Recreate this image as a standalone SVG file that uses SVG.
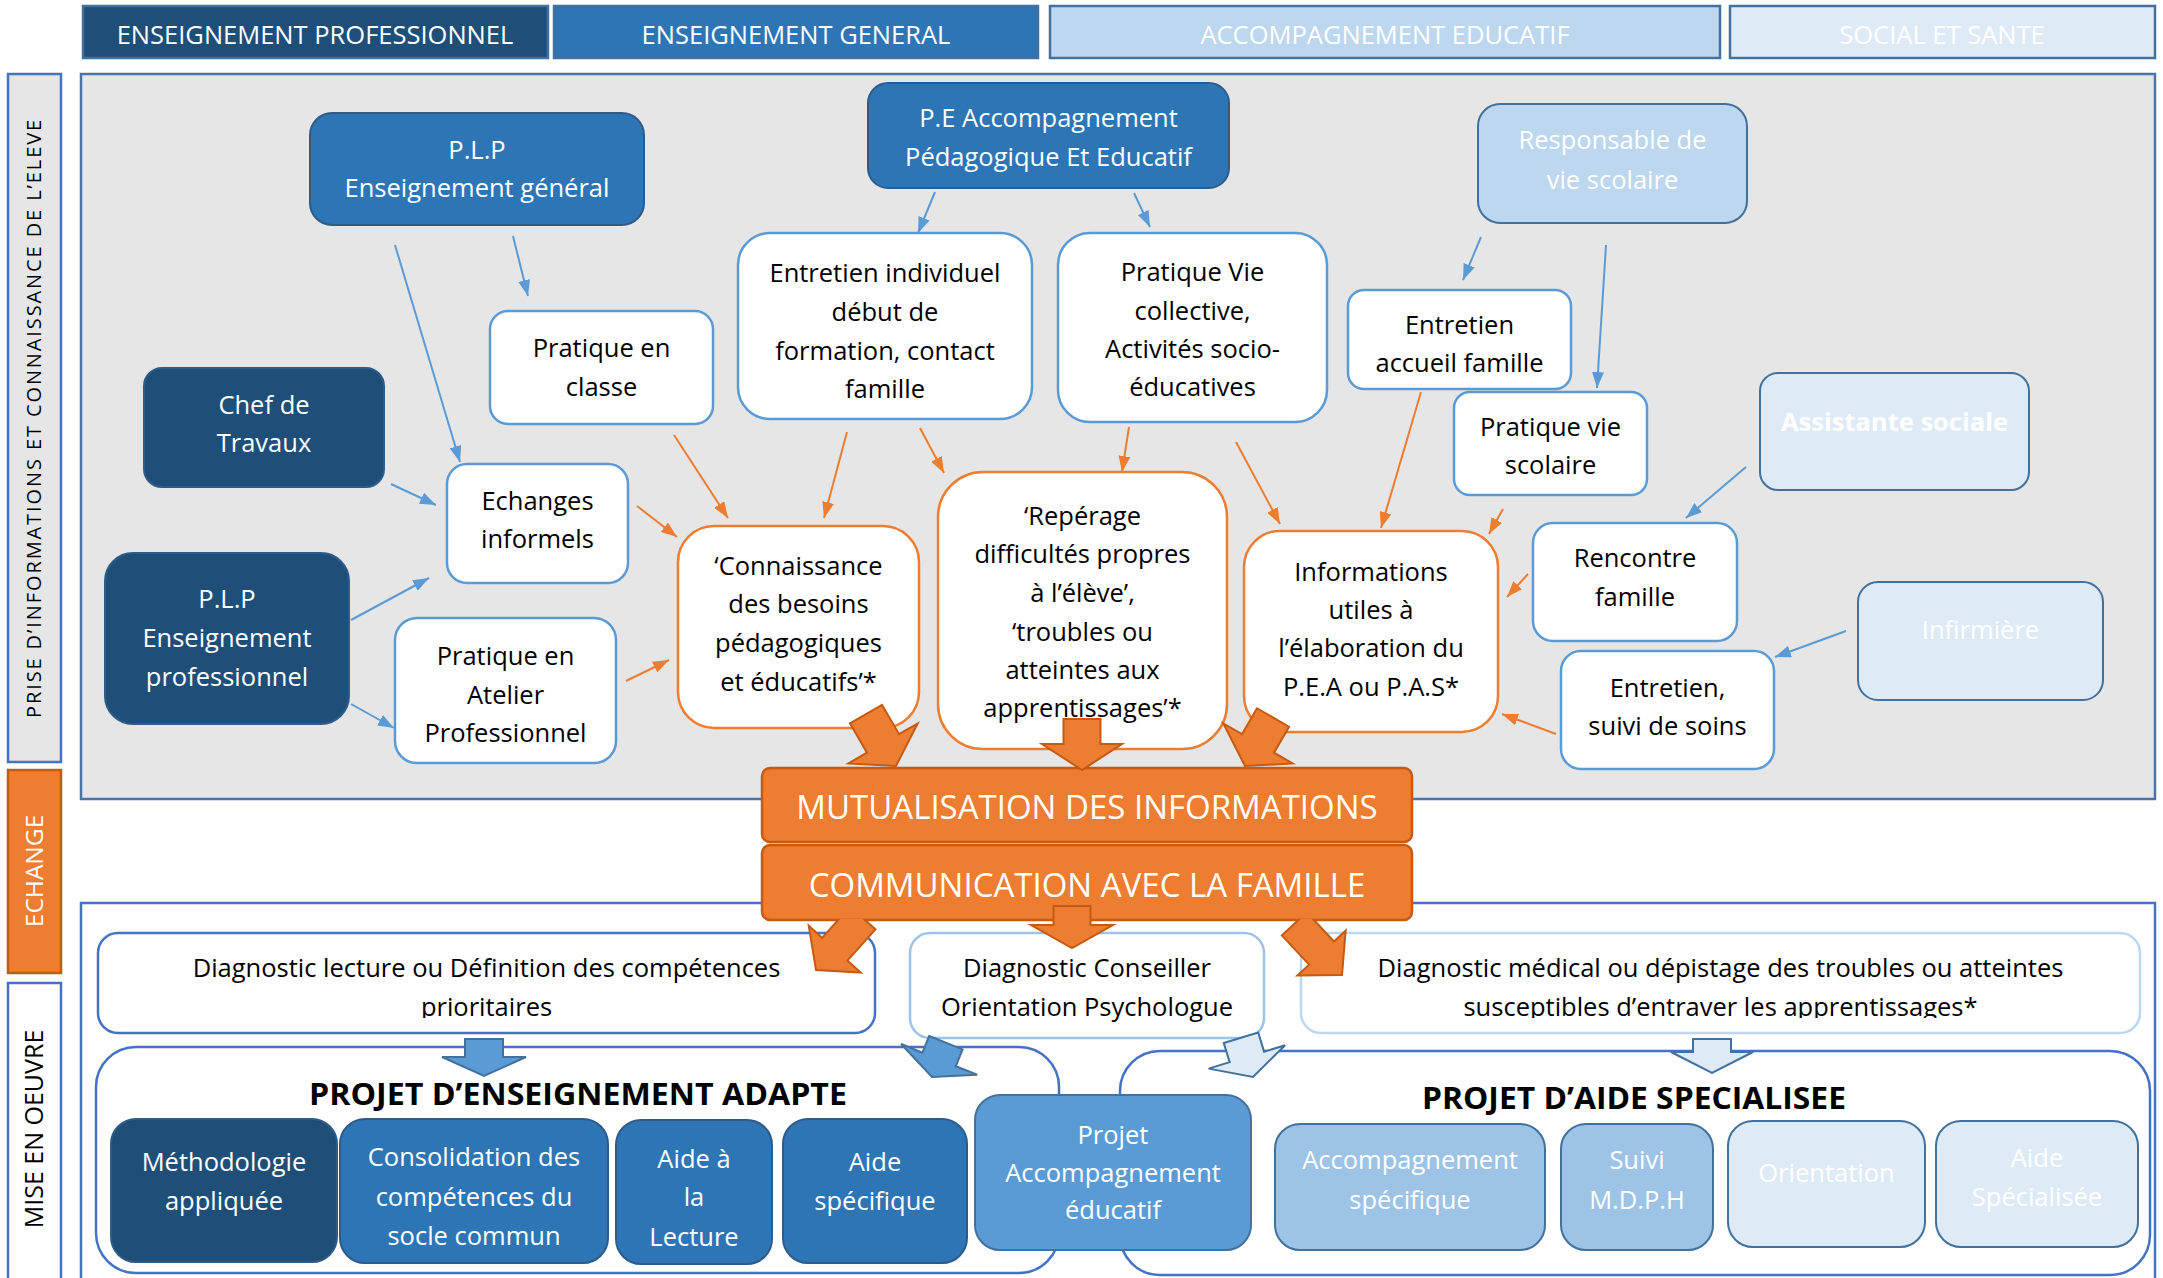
<svg xmlns="http://www.w3.org/2000/svg" width="2163" height="1278" viewBox="0 0 2163 1278">
<defs>
<style>
text{font-family:"Open Sans","Liberation Sans",sans-serif;font-size:25.5px;text-anchor:middle;fill:#000}
text.w{fill:#fff}
.hd{stroke:#41719C;stroke-width:2.5}
.navy{fill:#1F4E79;stroke:#2E5C8A;stroke-width:2}
.mid{fill:#2E75B6;stroke:#2E5C8A;stroke-width:2}
.sky{fill:#5B9BD5;stroke:#41719C;stroke-width:2}
.pale{fill:#9DC3E6;stroke:#41719C;stroke-width:2}
.light{fill:#BDD7EE;stroke:#41719C;stroke-width:2}
.ice{fill:#DEEBF7;stroke:#41719C;stroke-width:2}
.wb{fill:#fff;stroke:#5B9BD5;stroke-width:2.5}
.wo{fill:#fff;stroke:#ED7D31;stroke-width:2.5}
.ob{fill:#ED7D31;stroke:#C55A11;stroke-width:2.5}
.lb{stroke:#5B9BD5;stroke-width:2;fill:none;marker-end:url(#mb)}
.lo{stroke:#ED7D31;stroke-width:2;fill:none;marker-end:url(#mo)}
.bo{fill:#ED7D31;stroke:#C55A11;stroke-width:2}
.bb{fill:#5B9BD5;stroke:#41719C;stroke-width:2}
.bi{fill:#DEEBF7;stroke:#41719C;stroke-width:2}
</style>
<marker id="mb" markerWidth="16" markerHeight="12" refX="16" refY="6" orient="auto" markerUnits="userSpaceOnUse"><path d="M0,0 L16,6 L0,12 z" fill="#5B9BD5"/></marker>
<marker id="mo" markerWidth="16" markerHeight="12" refX="16" refY="6" orient="auto" markerUnits="userSpaceOnUse"><path d="M0,0 L16,6 L0,12 z" fill="#ED7D31"/></marker>
<clipPath id="below"><rect x="0" y="919" width="2163" height="200"/></clipPath>
<clipPath id="diagclip"><rect x="0" y="930" width="2163" height="88"/></clipPath>
</defs>
<rect width="2163" height="1278" fill="#fff"/>

<!-- headers -->
<g id="h-pro"><rect class="hd" x="83" y="6" width="465" height="52" fill="#1F4E79"/><text class="w" x="315" y="44">ENSEIGNEMENT PROFESSIONNEL</text></g>
<g id="h-gen"><rect class="hd" x="554" y="6" width="484" height="52" fill="#2E75B6"/><text class="w" x="796" y="44">ENSEIGNEMENT GENERAL</text></g>
<g id="h-acc"><rect class="hd" x="1050" y="6" width="670" height="52" fill="#BDD7EE"/><text class="w" x="1385" y="44">ACCOMPAGNEMENT EDUCATIF</text></g>
<g id="h-soc"><rect class="hd" x="1730" y="6" width="425" height="52" fill="#DEEBF7"/><text class="w" x="1942" y="44">SOCIAL ET SANTE</text></g>

<!-- side labels -->
<g id="lbl-prise"><rect x="8" y="74" width="53" height="688" fill="#E6E6E6" stroke="#4472C4" stroke-width="2.5"/><text transform="translate(41,418) rotate(-90)" style="font-size:20px;letter-spacing:1.9px">PRISE D’INFORMATIONS ET CONNAISSANCE DE L’ELEVE</text></g>
<g id="lbl-echange"><rect x="8" y="770" width="53" height="203" fill="#ED7D31" stroke="#C55A11" stroke-width="2.5"/><text class="w" transform="translate(43,871) rotate(-90)" style="font-size:24.5px">ECHANGE</text></g>
<g id="lbl-mise"><rect x="8" y="983" width="53" height="310" fill="#fff" stroke="#4472C4" stroke-width="2.5"/><text transform="translate(43,1129) rotate(-90)" style="font-size:25px">MISE EN OEUVRE</text></g>

<!-- panels -->
<g id="panel-top"><rect x="81" y="74" width="2074" height="725" fill="#E6E6E6" stroke="#4A74A6" stroke-width="2.5"/></g>
<g id="panel-bottom"><rect x="81" y="903" width="2074" height="400" fill="#fff" stroke="#4472C4" stroke-width="2.5"/></g>

<!-- top nodes -->
<g id="plp-eg"><rect class="mid" x="310" y="113" width="334" height="112" rx="22"/><text class="w" x="477" y="159">P.L.P</text><text class="w" x="477" y="197">Enseignement général</text></g>
<g id="pe-acc"><rect class="mid" x="868" y="83" width="361" height="105" rx="20"/><text class="w" x="1048.5" y="127">P.E Accompagnement</text><text class="w" x="1048.5" y="166">Pédagogique Et Educatif</text></g>
<g id="resp-vs"><rect class="light" x="1478" y="104" width="269" height="119" rx="22"/><text class="w" x="1612.5" y="149">Responsable de</text><text class="w" x="1612.5" y="189">vie scolaire</text></g>
<g id="prat-classe"><rect class="wb" x="490" y="311" width="223" height="113" rx="18"/><text x="601.5" y="357">Pratique en</text><text x="601.5" y="396">classe</text></g>
<g id="entretien-ind"><rect class="wb" x="738" y="233" width="294" height="186" rx="32"/><text x="885" y="282">Entretien individuel</text><text x="885" y="321">début de</text><text x="885" y="360">formation, contact</text><text x="885" y="398">famille</text></g>
<g id="prat-vie-coll"><rect class="wb" x="1058" y="233" width="269" height="189" rx="32"/><text x="1192.5" y="281">Pratique Vie</text><text x="1192.5" y="320">collective,</text><text x="1192.5" y="358">Activités socio-</text><text x="1192.5" y="396">éducatives</text></g>
<g id="entretien-accueil"><rect class="wb" x="1348" y="290" width="223" height="99" rx="16"/><text x="1459.5" y="334">Entretien</text><text x="1459.5" y="372">accueil famille</text></g>
<g id="prat-vie-sco"><rect class="wb" x="1454" y="392" width="193" height="103" rx="16"/><text x="1550.5" y="436">Pratique vie</text><text x="1550.5" y="474">scolaire</text></g>
<g id="assistante"><rect class="ice" x="1760" y="373" width="269" height="117" rx="18"/><text class="w" x="1894.5" y="431" style="font-weight:700">Assistante sociale</text></g>
<g id="chef"><rect class="navy" x="144" y="368" width="240" height="119" rx="18"/><text class="w" x="264" y="414">Chef de</text><text class="w" x="264" y="452">Travaux</text></g>
<g id="echanges"><rect class="wb" x="447" y="464" width="181" height="119" rx="20"/><text x="537.5" y="510">Echanges</text><text x="537.5" y="548">informels</text></g>
<g id="plp-ep"><rect class="navy" x="105" y="553" width="244" height="171" rx="28"/><text class="w" x="227" y="608">P.L.P</text><text class="w" x="227" y="647">Enseignement</text><text class="w" x="227" y="686">professionnel</text></g>
<g id="atelier"><rect class="wb" x="395" y="618" width="221" height="145" rx="22"/><text x="505.5" y="665">Pratique en</text><text x="505.5" y="704">Atelier</text><text x="505.5" y="742">Professionnel</text></g>
<g id="connaissance"><rect class="wo" x="678" y="526" width="241" height="202" rx="36"/><text x="798.5" y="575">‘Connaissance</text><text x="798.5" y="613">des besoins</text><text x="798.5" y="652">pédagogiques</text><text x="798.5" y="691">et éducatifs’*</text></g>
<g id="reperage"><rect class="wo" x="938" y="472" width="289" height="277" rx="45"/><text x="1082.5" y="525">‘Repérage</text><text x="1082.5" y="563">difficultés propres</text><text x="1082.5" y="602">à l’élève’,</text><text x="1082.5" y="641">‘troubles ou</text><text x="1082.5" y="679">atteintes aux</text><text x="1082.5" y="717">apprentissages’*</text></g>
<g id="informations"><rect class="wo" x="1244" y="531" width="254" height="201" rx="36"/><text x="1371" y="581">Informations</text><text x="1371" y="619">utiles à</text><text x="1371" y="657">l’élaboration du</text><text x="1371" y="696">P.E.A ou P.A.S*</text></g>
<g id="rencontre"><rect class="wb" x="1533" y="523" width="204" height="118" rx="20"/><text x="1635" y="567">Rencontre</text><text x="1635" y="606">famille</text></g>
<g id="infirmiere"><rect class="ice" x="1858" y="582" width="245" height="118" rx="20"/><text class="w" x="1980.5" y="639">Infirmière</text></g>
<g id="entretien-soins"><rect class="wb" x="1561" y="651" width="213" height="118" rx="20"/><text x="1667.5" y="697">Entretien,</text><text x="1667.5" y="735">suivi de soins</text></g>

<!-- bottom nodes -->
<g id="diag-lecture"><rect x="98" y="933" width="777" height="100" rx="20" fill="#fff" stroke="#4472C4" stroke-width="2.5"/><g clip-path="url(#diagclip)"><text x="486.5" y="977">Diagnostic lecture ou Définition des compétences</text><text x="486.5" y="1016">prioritaires</text></g></g>
<g id="diag-cop"><rect x="910" y="933" width="354" height="105" rx="20" fill="#fff" stroke="#9DC3E6" stroke-width="2.5"/><text x="1087" y="977">Diagnostic Conseiller</text><text x="1087" y="1016">Orientation Psychologue</text></g>
<g id="diag-medical"><rect x="1301" y="933" width="839" height="100" rx="20" fill="#fff" stroke="#BDD7EE" stroke-width="2.5"/><g clip-path="url(#diagclip)"><text x="1720.5" y="977">Diagnostic médical ou dépistage des troubles ou atteintes</text><text x="1720.5" y="1016">susceptibles d’entraver les apprentissages*</text></g></g>

<g id="pea"><rect x="96" y="1047" width="963" height="226" rx="40" fill="#fff" stroke="#4472C4" stroke-width="2.5"/><text x="578" y="1105" textLength="538" lengthAdjust="spacingAndGlyphs" style="font-size:31px;font-weight:700">PROJET D’ENSEIGNEMENT ADAPTE</text></g>
<g id="pas"><rect x="1120" y="1051" width="1030" height="224" rx="40" fill="#fff" stroke="#4472C4" stroke-width="2.5"/><text x="1634" y="1109" textLength="424" lengthAdjust="spacingAndGlyphs" style="font-size:31px;font-weight:700">PROJET D’AIDE SPECIALISEE</text></g>

<g id="methodo"><rect class="navy" x="111" y="1119" width="226" height="143" rx="25"/><text class="w" x="224" y="1171">Méthodologie</text><text class="w" x="224" y="1210">appliquée</text></g>
<g id="consolidation"><rect class="mid" x="340" y="1119" width="268" height="144" rx="25"/><text class="w" x="474" y="1166">Consolidation des</text><text class="w" x="474" y="1206">compétences du</text><text class="w" x="474" y="1245">socle commun</text></g>
<g id="aide-lecture"><rect class="mid" x="616" y="1120" width="156" height="144" rx="25"/><text class="w" x="694" y="1168">Aide à</text><text class="w" x="694" y="1206">la</text><text class="w" x="694" y="1246">Lecture</text></g>
<g id="aide-spec"><rect class="mid" x="783" y="1119" width="184" height="144" rx="25"/><text class="w" x="875" y="1171">Aide</text><text class="w" x="875" y="1210">spécifique</text></g>
<g id="projet-acc"><rect class="sky" x="975" y="1095" width="276" height="155" rx="25"/><text class="w" x="1113" y="1144">Projet</text><text class="w" x="1113" y="1182">Accompagnement</text><text class="w" x="1113" y="1219">éducatif</text></g>
<g id="acc-spec"><rect class="pale" x="1275" y="1124" width="270" height="126" rx="25"/><text class="w" x="1410" y="1169">Accompagnement</text><text class="w" x="1410" y="1209">spécifique</text></g>
<g id="suivi"><rect class="pale" x="1561" y="1124" width="152" height="126" rx="25"/><text class="w" x="1637" y="1169">Suivi</text><text class="w" x="1637" y="1209">M.D.P.H</text></g>
<g id="orientation"><rect class="ice" x="1728" y="1121" width="197" height="126" rx="25"/><text class="w" x="1826.5" y="1182">Orientation</text></g>
<g id="aide-specialisee"><rect class="ice" x="1936" y="1121" width="202" height="126" rx="25"/><text class="w" x="2037" y="1167">Aide</text><text class="w" x="2037" y="1206">Spécialisée</text></g>

<!-- central orange -->
<g id="mutualisation"><rect class="ob" x="762" y="768" width="650" height="74" rx="8"/><text class="w" x="1087" y="819" style="font-size:33px">MUTUALISATION DES INFORMATIONS</text></g>
<g id="communication"><rect class="ob" x="762" y="845" width="650" height="75" rx="8"/><text class="w" x="1087" y="897" style="font-size:33px">COMMUNICATION AVEC LA FAMILLE</text></g>

<!-- connectors -->
<g id="connectors">
<line class="lb" x1="395" y1="245" x2="460" y2="462"/>
<line class="lb" x1="513" y1="236" x2="528" y2="296"/>
<line class="lb" x1="935" y1="192" x2="918" y2="233"/>
<line class="lb" x1="1134" y1="193" x2="1150" y2="227"/>
<line class="lb" x1="1481" y1="237" x2="1463" y2="280"/>
<line class="lb" x1="1606" y1="245" x2="1597" y2="388"/>
<line class="lb" x1="391" y1="484" x2="436" y2="505"/>
<line class="lb" x1="351" y1="620" x2="429" y2="578"/>
<line class="lb" x1="351" y1="704" x2="394" y2="728"/>
<line class="lb" x1="1746" y1="467" x2="1686" y2="518"/>
<line class="lb" x1="1846" y1="631" x2="1775" y2="657"/>

<line class="lo" x1="674" y1="435" x2="728" y2="518"/>
<line class="lo" x1="847" y1="432" x2="824" y2="518"/>
<line class="lo" x1="920" y1="428" x2="944" y2="473"/>
<line class="lo" x1="637" y1="506" x2="677" y2="537"/>
<line class="lo" x1="626" y1="681" x2="669" y2="660"/>
<line class="lo" x1="1129" y1="427" x2="1122" y2="472"/>
<line class="lo" x1="1236" y1="442" x2="1280" y2="524"/>
<line class="lo" x1="1421" y1="392" x2="1381" y2="528"/>
<line class="lo" x1="1503" y1="509" x2="1489" y2="534"/>
<line class="lo" x1="1528" y1="574" x2="1507" y2="597"/>
<line class="lo" x1="1556" y1="734" x2="1502" y2="714"/>

<polygon class="bo" points="-18.5,-60 18.5,-60 18.5,-26 40,-26 0,0 -40,-26 -18.5,-26" transform="translate(896,766) rotate(-30)"/>
<polygon class="bo" points="-18.5,-51 18.5,-51 18.5,-26 40,-26 0,0 -40,-26 -18.5,-26" transform="translate(1082,770)"/>
<polygon class="bo" points="-18.5,-56 18.5,-56 18.5,-26 40,-26 0,0 -40,-26 -18.5,-26" transform="translate(1245,766) rotate(30)"/>

<polygon class="bo" points="-18.5,-42 18.5,-42 18.5,-23 41,-23 0,0 -41,-23 -18.5,-23" transform="translate(1072,948)"/>
<g clip-path="url(#below)"><polygon class="bo" points="-17,-70 17,-70 17,-28 35,-28 0,0 -35,-28 -17,-28" transform="translate(816,970) rotate(42)"/></g>
<g clip-path="url(#below)"><polygon class="bo" points="-17,-70 17,-70 17,-30 33,-30 0,0 -33,-30 -17,-30" transform="translate(1342,975) rotate(-43)"/></g>

<polygon class="bb" points="-19,-37 19,-37 19,-19 42,-19 0,0 -42,-19 -19,-19" transform="translate(484,1076)"/>
<polygon class="bb" points="-18,-37 18,-37 18,-19 41,-19 0,0 -41,-19 -18,-19" transform="translate(932,1077) rotate(22)"/>
<polygon class="bi" points="-18,-41 18,-41 18,-21 40,-21 0,0 -40,-21 -18,-21" transform="translate(1253,1077) rotate(-17)"/>
<polygon class="bi" points="-19,-34 19,-34 19,-21 41,-21 0,0 -41,-21 -19,-21" transform="translate(1712,1073)"/>
</g>
</svg>
